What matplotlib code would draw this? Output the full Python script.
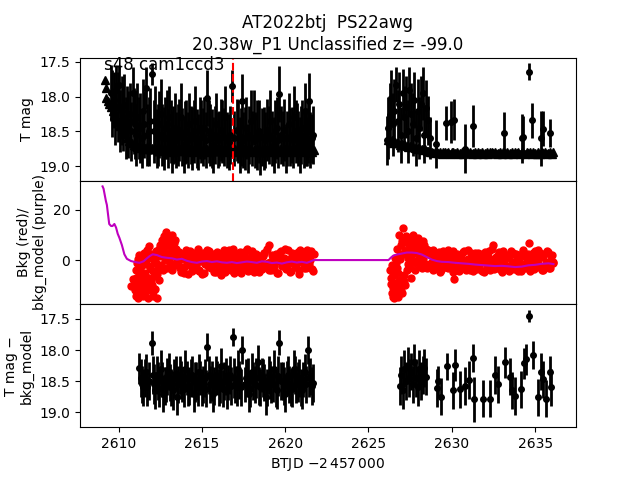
import matplotlib
matplotlib.use('Agg')
import matplotlib.pyplot as plt

# --- top panel: detections (mag, err) ---
det1_t = [
    2609.55, 2609.72, 2609.85, 2610.04, 2610.18, 2610.34, 2610.50, 2610.66, 2610.84, 2610.98,
    2611.12, 2611.30, 2611.46, 2611.63, 2611.80, 2612.03, 2612.20, 2612.36, 2612.52, 2612.70,
    2612.88, 2613.04, 2613.20, 2613.38, 2613.55, 2613.72, 2613.90, 2614.06, 2614.24, 2614.42,
    2614.60, 2614.78, 2614.95, 2615.14, 2615.32, 2615.50, 2615.68, 2615.86, 2616.04, 2616.22,
    2616.40, 2616.60, 2616.82, 2617.10, 2617.26, 2617.40, 2617.58, 2617.76, 2617.94, 2618.12,
    2618.30, 2618.50, 2618.70, 2618.90, 2619.10, 2619.30, 2619.48, 2619.65, 2619.84, 2620.02,
    2620.20, 2620.38, 2620.54, 2620.69, 2620.86, 2621.02, 2621.18, 2621.32, 2621.44, 2621.58]
det1_mag = [
    17.95, 18.05, 17.90, 17.83, 18.20, 18.12, 18.35, 18.25, 17.95, 18.40,
    18.30, 18.45, 18.20, 17.88, 18.50, 17.68, 18.35, 18.55, 18.25, 18.60,
    18.40, 18.30, 18.65, 18.45, 18.55, 18.30, 18.70, 18.50, 18.40, 18.60,
    18.35, 18.65, 18.50, 18.45, 18.02, 18.55, 18.70, 18.40, 18.60, 18.50,
    18.30, 18.65, 17.85, 18.48, 18.70, 18.07, 18.60, 18.75, 18.35, 18.30,
    18.55, 18.80, 18.60, 18.48, 18.35, 18.70, 18.45, 17.96, 18.60, 18.75,
    18.40, 18.55, 18.30, 18.49, 18.70, 18.45, 18.20, 18.65, 18.06, 18.60]
det1_err = [
    0.40, 0.40, 0.35, 0.28, 0.50, 0.45, 0.50, 0.45, 0.38, 0.50,
    0.50, 0.50, 0.45, 0.30, 0.50, 0.16, 0.50, 0.45, 0.50, 0.45,
    0.50, 0.45, 0.45, 0.50, 0.45, 0.50, 0.40, 0.45, 0.45, 0.45,
    0.50, 0.40, 0.45, 0.45, 0.40, 0.45, 0.40, 0.45, 0.40, 0.45,
    0.45, 0.40, 0.23, 0.45, 0.40, 0.40, 0.45, 0.35, 0.45, 0.40,
    0.50, 0.33, 0.45, 0.45, 0.45, 0.40, 0.45, 0.40, 0.40, 0.35,
    0.45, 0.40, 0.45, 0.40, 0.40, 0.40, 0.40, 0.35, 0.40, 0.35]

det1b_t = [
    2609.62, 2609.78, 2609.95, 2610.10, 2610.26, 2610.42, 2610.58, 2610.75, 2610.91, 2611.05,
    2611.21, 2611.38, 2611.55, 2611.72, 2611.90, 2612.12, 2612.28, 2612.44, 2612.61, 2612.79,
    2612.96, 2613.12, 2613.29, 2613.46, 2613.63, 2613.81, 2613.98, 2614.15, 2614.33, 2614.51,
    2614.69, 2614.87, 2615.05, 2615.23, 2615.41, 2615.59, 2615.77, 2615.95, 2616.13, 2616.31,
    2616.50, 2616.70, 2616.95, 2617.18, 2617.33, 2617.49, 2617.67, 2617.85, 2618.03, 2618.21,
    2618.40, 2618.60, 2618.80, 2619.00, 2619.20, 2619.39, 2619.57, 2619.75, 2619.93, 2620.11,
    2620.29, 2620.46, 2620.62, 2620.78, 2620.94, 2621.10, 2621.25, 2621.38, 2621.51, 2621.64]
det1b_mag = [
    18.10, 18.25, 18.15, 18.35, 18.30, 18.45, 18.40, 18.50, 18.35, 18.55,
    18.45, 18.60, 18.40, 18.55, 18.35, 18.50, 18.60, 18.40, 18.55, 18.45,
    18.60, 18.50, 18.55, 18.62, 18.48, 18.58, 18.52, 18.62, 18.55, 18.50,
    18.60, 18.45, 18.58, 18.62, 18.50, 18.60, 18.55, 18.62, 18.48, 18.58,
    18.62, 18.55, 18.60, 18.50, 18.58, 18.62, 18.45, 18.55, 18.60, 18.62,
    18.50, 18.58, 18.62, 18.55, 18.60, 18.50, 18.62, 18.55, 18.48, 18.60,
    18.58, 18.62, 18.50, 18.60, 18.55, 18.62, 18.58, 18.50, 18.62, 18.55]
det1b_err = [
    0.48, 0.45, 0.50, 0.45, 0.48, 0.45, 0.48, 0.42, 0.48, 0.45,
    0.45, 0.42, 0.48, 0.45, 0.48, 0.45, 0.42, 0.48, 0.45, 0.45,
    0.42, 0.45, 0.42, 0.40, 0.45, 0.42, 0.45, 0.40, 0.42, 0.45,
    0.42, 0.45, 0.42, 0.40, 0.45, 0.42, 0.42, 0.40, 0.45, 0.42,
    0.40, 0.42, 0.40, 0.45, 0.42, 0.40, 0.45, 0.42, 0.40, 0.40,
    0.45, 0.42, 0.40, 0.42, 0.40, 0.45, 0.40, 0.42, 0.45, 0.40,
    0.42, 0.40, 0.45, 0.40, 0.42, 0.40, 0.42, 0.45, 0.40, 0.42]

det2_t = [
    2626.12, 2626.20, 2626.27, 2626.37, 2626.45, 2626.55, 2626.67, 2626.76, 2626.85, 2626.95,
    2627.05, 2627.15, 2627.25, 2627.35, 2627.45, 2627.55, 2627.65, 2627.75, 2627.85, 2627.95,
    2628.05, 2628.15, 2628.26, 2628.36, 2628.46, 2628.56, 2628.70, 2629.06, 2629.66, 2629.95,
    2630.16, 2630.80, 2631.25, 2633.15, 2634.22, 2634.30, 2634.66, 2634.84, 2635.38, 2635.46,
    2635.90]
det2_mag = [
    18.63, 18.45, 18.26, 18.02, 18.40, 18.20, 17.83, 18.35, 18.10, 18.55,
    17.95, 18.30, 18.15, 18.50, 17.90, 18.25, 18.40, 18.05, 18.60, 18.20,
    18.45, 18.10, 17.95, 18.55, 18.16, 18.34, 18.60, 18.68, 18.38, 18.36,
    18.33, 18.75, 18.42, 18.52, 18.60, 18.58, 17.64, 18.34, 18.60, 18.46,
    18.52]
det2_err = [
    0.35, 0.45, 0.45, 0.40, 0.45, 0.45, 0.25, 0.45, 0.45, 0.40,
    0.35, 0.45, 0.45, 0.45, 0.33, 0.45, 0.45, 0.40, 0.40, 0.45,
    0.45, 0.40, 0.38, 0.40, 0.40, 0.35, 0.30, 0.35, 0.25, 0.30,
    0.30, 0.35, 0.30, 0.30, 0.35, 0.30, 0.12, 0.25, 0.40, 0.25,
    0.20]

# --- top panel: upper limits (triangles) ---
lim1_t = [
    2609.20, 2609.22, 2609.25, 2609.35, 2609.45, 2609.55, 2609.65, 2609.75, 2609.85, 2609.95,
    2610.05, 2610.20, 2610.35, 2610.50, 2610.65, 2610.80, 2610.95,
    2611.0, 2611.1, 2611.2, 2611.3, 2611.4, 2611.5, 2611.6, 2611.7, 2611.8, 2611.9,
    2612.0, 2612.1, 2612.2, 2612.3, 2612.4, 2612.5, 2612.6, 2612.7, 2612.8, 2612.9,
    2613.0, 2613.1, 2613.2, 2613.3, 2613.4, 2613.5, 2613.6, 2613.7, 2613.8, 2613.9,
    2614.0, 2614.1, 2614.2, 2614.3, 2614.4, 2614.5, 2614.6, 2614.7, 2614.8, 2614.9,
    2615.0, 2615.1, 2615.2, 2615.3, 2615.4, 2615.5, 2615.6, 2615.7, 2615.8, 2615.9,
    2616.0, 2616.1, 2616.2, 2616.3, 2616.4, 2616.5, 2616.6, 2616.7, 2616.8, 2616.9,
    2617.0, 2617.1, 2617.2, 2617.3, 2617.4, 2617.5, 2617.6, 2617.7, 2617.8, 2617.9,
    2618.0, 2618.1, 2618.2, 2618.3, 2618.4, 2618.5, 2618.6, 2618.7, 2618.8, 2618.9,
    2619.0, 2619.1, 2619.2, 2619.3, 2619.4, 2619.5, 2619.6, 2619.7, 2619.8, 2619.9,
    2620.0, 2620.1, 2620.2, 2620.3, 2620.4, 2620.5, 2620.6, 2620.7, 2620.8, 2620.9,
    2621.0, 2621.1, 2621.2, 2621.3, 2621.4, 2621.5, 2621.6, 2621.7]
lim1_mag = [
    17.76, 17.87, 18.02, 18.06, 18.10, 18.15, 18.20, 18.26, 18.32, 18.37,
    18.42, 18.48, 18.54, 18.60, 18.64, 18.67, 18.70,
    18.71, 18.73, 18.72, 18.74, 18.73, 18.75, 18.74, 18.73, 18.75, 18.76,
    18.74, 18.76, 18.75, 18.77, 18.74, 18.76, 18.78, 18.75, 18.77, 18.76,
    18.75, 18.77, 18.79, 18.76, 18.74, 18.77, 18.78, 18.76, 18.75, 18.78,
    18.77, 18.75, 18.78, 18.76, 18.79, 18.77, 18.75, 18.78, 18.76, 18.77,
    18.79, 18.76, 18.78, 18.75, 18.77, 18.79, 18.76, 18.78, 18.77, 18.75,
    18.78, 18.76, 18.79, 18.77, 18.75, 18.78, 18.76, 18.79, 18.77, 18.78,
    18.76, 18.79, 18.77, 18.75, 18.78, 18.76, 18.79, 18.77, 18.78, 18.76,
    18.79, 18.77, 18.75, 18.78, 18.76, 18.79, 18.78, 18.76, 18.77, 18.79,
    18.77, 18.75, 18.78, 18.76, 18.79, 18.77, 18.78, 18.76, 18.79, 18.77,
    18.75, 18.78, 18.76, 18.79, 18.77, 18.78, 18.76, 18.79, 18.77, 18.75,
    18.78, 18.76, 18.79, 18.77, 18.78, 18.76, 18.79, 18.77]

lim2_t = [
    2626.2, 2626.3, 2626.4, 2626.5, 2626.6, 2626.7, 2626.8, 2626.9, 2627.0, 2627.1,
    2627.2, 2627.3, 2627.4, 2627.5, 2627.6, 2627.7, 2627.8, 2627.9, 2628.0, 2628.1,
    2628.2, 2628.3, 2628.4, 2628.5,
    2628.6, 2628.7, 2628.8, 2628.9, 2629.0, 2629.1, 2629.2, 2629.3, 2629.4, 2629.5,
    2629.6, 2629.7, 2629.8, 2629.9, 2630.0, 2630.1, 2630.2, 2630.3, 2630.4, 2630.5,
    2630.6, 2630.7, 2630.8, 2630.9, 2631.0, 2631.1, 2631.2, 2631.3, 2631.4, 2631.5,
    2631.6, 2631.7, 2631.8, 2631.9, 2632.0, 2632.1, 2632.2, 2632.3, 2632.4, 2632.5,
    2632.6, 2632.7, 2632.8, 2632.9, 2633.0, 2633.1, 2633.2, 2633.3, 2633.4, 2633.5,
    2633.6, 2633.7, 2633.8, 2633.9, 2634.0, 2634.1, 2634.2, 2634.3, 2634.4, 2634.5,
    2634.6, 2634.7, 2634.8, 2634.9, 2635.0, 2635.1, 2635.2, 2635.3, 2635.4, 2635.5,
    2635.6, 2635.7, 2635.8, 2635.9, 2636.0, 2636.1]
lim2_mag = [
    18.62, 18.64, 18.63, 18.66, 18.65, 18.67, 18.66, 18.69, 18.68, 18.70,
    18.69, 18.71, 18.72, 18.71, 18.73, 18.72, 18.74, 18.75, 18.74, 18.76,
    18.75, 18.77, 18.76, 18.78,
    18.78, 18.80, 18.79, 18.81, 18.80, 18.79, 18.81, 18.80, 18.82, 18.80,
    18.79, 18.81, 18.80, 18.82, 18.80, 18.79, 18.81, 18.80, 18.82, 18.81,
    18.80, 18.82, 18.80, 18.79, 18.81, 18.80, 18.82, 18.81, 18.80, 18.82,
    18.79, 18.81, 18.80, 18.82, 18.81, 18.80, 18.82, 18.80, 18.79, 18.81,
    18.80, 18.82, 18.81, 18.80, 18.82, 18.79, 18.81, 18.80, 18.82, 18.81,
    18.80, 18.82, 18.80, 18.81, 18.79, 18.82, 18.80, 18.81, 18.82, 18.80,
    18.81, 18.79, 18.82, 18.80, 18.81, 18.83, 18.80, 18.82, 18.79, 18.81,
    18.80, 18.82, 18.81, 18.79, 18.82, 18.80]

disc_t = 2616.87

# --- middle panel: background flux ---
bkg1_t = [
    2610.72, 2610.85, 2611.00, 2611.03, 2611.06, 2611.10, 2611.13, 2611.16, 2611.20, 2611.23,
    2611.27, 2611.30, 2611.34, 2611.38, 2611.42, 2611.46, 2611.50, 2611.54, 2611.58, 2611.62,
    2611.66, 2611.70, 2611.75, 2611.80, 2611.84, 2611.88, 2611.92, 2611.96, 2612.00, 2612.04,
    2612.08, 2612.12, 2612.16, 2612.20, 2612.25, 2612.30, 2612.35, 2612.40, 2612.45, 2612.50,
    2612.55, 2612.60, 2612.65, 2612.70, 2612.75, 2612.80, 2612.83, 2612.88, 2612.93, 2612.98,
    2613.03, 2613.08, 2613.13, 2613.18, 2613.23, 2613.28, 2613.33, 2613.38, 2613.43, 2613.48,
    2613.55, 2613.65, 2613.75, 2613.85, 2613.95, 2614.05, 2614.15, 2614.25, 2614.35, 2614.45,
    2614.55, 2614.65, 2614.75, 2614.85, 2614.95, 2615.05, 2615.15, 2615.25, 2615.35, 2615.45,
    2615.55, 2615.65, 2615.75, 2615.85, 2615.95, 2616.05, 2616.15, 2616.25, 2616.35, 2616.45,
    2616.55, 2616.65, 2616.75, 2616.85, 2616.95, 2617.05, 2617.15, 2617.25, 2617.35, 2617.45,
    2617.55, 2617.65, 2617.75, 2617.85, 2617.95, 2618.05, 2618.15, 2618.25, 2618.35, 2618.45,
    2618.55, 2618.65, 2618.75, 2618.85, 2618.95, 2619.05, 2619.15, 2619.25, 2619.35, 2619.45,
    2619.55, 2619.65, 2619.75, 2619.85, 2619.95, 2620.05, 2620.15, 2620.25, 2620.35, 2620.45,
    2620.55, 2620.65, 2620.75, 2620.85, 2620.95, 2621.05, 2621.15, 2621.25, 2621.35, 2621.45,
    2621.55, 2621.65]
bkg1_val = [
    -10.4, -7.6, -12.0, -4.0, -14.5, -1.0, -9.0, -15.3, 2.0, -6.0,
    -12.5, -3.0, -14.0, 0.5, -8.0, -11.0, 3.0, -5.0, -13.0, -1.5,
    -9.5, 1.0, -15.0, 5.6, -7.0, -2.5, -12.0, 2.5, -10.0, -4.5,
    -14.5, 0.0, -6.5, -11.5, 3.5, -15.0, -3.0, -8.0, 1.5, 6.0,
    -2.0, 8.0, -4.0, 4.0, 9.5, 0.0, 11.3, 6.5, -3.0, 2.5,
    8.5, -1.0, 5.0, 10.0, -4.0, 3.0, 7.0, -2.0, 4.5, 0.5,
    -1.5, 3.2, -4.8, 0.6, -2.9, 4.1, -5.6, -0.8, 2.4, -3.7,
    1.1, -1.9, 4.6, -4.2, -0.3, 2.9, -5.1, 0.9, -2.4, 3.6,
    -3.3, -0.1, 1.8, -4.6, 2.7, -1.2, -5.8, 0.4, 3.9, -2.7,
    -0.9, 1.5, -4.0, 4.3, -1.7, -3.1, 2.1, -0.5, -5.3, 1.3,
    3.4, -2.2, -4.4, 0.2, 2.6, -1.4, -3.6, 2.6, -0.7, -4.9,
    1.2, 1.7, 3.0, -2.6, -1.0, 6.0, -3.9, 0.7, -1.8, 2.3,
    -5.0, -0.4, 3.7, -2.1, 1.0, -3.4, 4.0, -1.1, -4.3, 2.0,
    0.1, -2.8, 3.3, -5.4, 1.4, -0.6, 2.8, -3.0, 0.8, -1.6,
    3.5, -4.5]

bkg1b_t = [
    2611.02, 2611.08, 2611.15, 2611.22, 2611.32, 2611.40, 2611.48, 2611.60, 2611.68, 2611.78,
    2611.86, 2611.94, 2612.02, 2612.14, 2612.22, 2612.33, 2612.42, 2612.58, 2612.72, 2612.90,
    2613.00, 2613.15, 2613.25, 2613.40,
    2613.60, 2613.70, 2613.80, 2613.90, 2614.00, 2614.10, 2614.20, 2614.30, 2614.40, 2614.50,
    2614.60, 2614.70, 2614.80, 2614.90, 2615.00, 2615.10, 2615.20, 2615.30, 2615.40, 2615.50,
    2615.60, 2615.70, 2615.80, 2615.90, 2616.00, 2616.10, 2616.20, 2616.30, 2616.40, 2616.50,
    2616.60, 2616.70, 2616.80, 2616.90, 2617.00, 2617.10, 2617.20, 2617.30, 2617.40, 2617.50,
    2617.60, 2617.70, 2617.80, 2617.90, 2618.00, 2618.10, 2618.20, 2618.30, 2618.40, 2618.50,
    2618.60, 2618.70, 2618.80, 2618.90, 2619.00, 2619.10, 2619.20, 2619.30, 2619.40, 2619.50,
    2619.60, 2619.70, 2619.80, 2619.90, 2620.00, 2620.10, 2620.20, 2620.30, 2620.40, 2620.50,
    2620.60, 2620.70, 2620.80, 2620.90, 2621.00, 2621.10, 2621.20, 2621.30, 2621.40, 2621.50,
    2621.60, 2621.70]
bkg1b_val = [
    -7.0, -11.5, 0.5, -13.5, -9.0, -2.0, -14.5, -6.0, 4.0, -11.0,
    -3.5, -8.5, 1.0, -12.0, -1.0, -5.5, 4.5, 2.0, 7.0, 9.0,
    1.0, 6.0, 1.5, 8.0,
    0.8, -3.1, 2.2, -5.2, 1.9, -2.0, 0.3, 3.5, -4.4, -1.1,
    3.0, -0.6, -3.8, 1.6, -5.5, 2.0, -1.7, 4.0, -2.9, 0.2,
    2.5, -4.9, -1.6, 3.1, -3.5, 0.7, 2.3, -2.1, -4.7, 1.0,
    4.2, -2.5, 0.6, -5.0, 2.8, -0.2, -3.9, 3.3, -1.3, -2.8,
    0.9, 4.4, -3.0, -1.9, 3.8, -4.8, 0.1, -2.4, 1.8, -0.8,
    -3.7, 2.9, -1.5, 4.6, -4.1, -0.6, 2.2, -2.7, 0.5, -5.2,
    1.6, 3.1, -2.3, -0.5, 4.5, -3.2, 0.4, -4.6, 2.7, -1.2,
    -2.0, 1.1, -4.1, 3.9, -0.9, -3.3, 1.7, 4.1, -2.6, 0.0,
    -3.6, 2.4]

bkg2_t = [
    2626.30, 2626.38, 2626.42, 2626.46, 2626.50, 2626.54, 2626.58, 2626.62, 2626.66, 2626.70,
    2626.74, 2626.78, 2626.82, 2626.86, 2626.90, 2626.94, 2626.98, 2627.02, 2627.06, 2627.10,
    2627.14, 2627.18, 2627.22, 2627.26, 2627.30, 2627.35, 2627.40, 2627.45, 2627.50, 2627.55,
    2627.60, 2627.65, 2627.70, 2627.75, 2627.80, 2627.85, 2627.90, 2627.95, 2628.00, 2628.05,
    2628.10, 2628.15, 2628.20, 2628.25, 2628.30, 2628.35, 2628.40, 2628.45, 2628.50, 2628.55,
    2628.65, 2628.75, 2628.85, 2628.95, 2629.05, 2629.15, 2629.25, 2629.35, 2629.45, 2629.55,
    2629.65, 2629.75, 2629.85, 2629.95, 2630.05, 2630.15, 2630.25, 2630.35, 2630.45, 2630.55,
    2630.65, 2630.75, 2630.85, 2630.95, 2631.05, 2631.15, 2631.25, 2631.35, 2631.45, 2631.55,
    2631.65, 2631.75, 2631.85, 2631.95, 2632.05, 2632.15, 2632.25, 2632.35, 2632.45, 2632.55,
    2632.65, 2632.75, 2632.85, 2632.95, 2633.05, 2633.15, 2633.25, 2633.35, 2633.45, 2633.55,
    2633.65, 2633.75, 2633.85, 2633.95, 2634.05, 2634.15, 2634.25, 2634.35, 2634.45, 2634.55,
    2634.65, 2634.75, 2634.85, 2634.95, 2635.05, 2635.15, 2635.25, 2635.35, 2635.45, 2635.55,
    2635.65, 2635.75, 2635.85, 2635.95, 2636.05]
bkg2_val = [
    -4.0, -7.2, -2.0, -11.0, -14.7, -5.0, 1.0, -9.0, -12.5, -3.0,
    4.5, -14.7, -8.0, 10.0, 0.5, -10.7, 6.0, -13.3, 2.5, 12.7,
    -6.0, 8.0, -10.0, 3.0, -4.0, 7.0, 1.0, -3.3, 9.0, -7.3,
    5.0, 10.0, -1.0, 6.5, -4.0, 3.0, 8.0, 0.0, 5.0, -2.0,
    7.0, 2.0, -3.0, 5.5, 0.5, 6.0, -1.5, 3.5, -3.0, 4.0,
    2.5, -1.2, 4.1, -3.5, 0.8, -2.2, 3.3, -4.1, 1.6, -0.4,
    2.9, -3.0, 0.3, -1.8, 3.8, -7.6, -2.6, 1.2, -4.4, 2.2,
    -0.9, 3.5, -3.8, 0.6, -2.0, 2.7, -4.2, 1.0, -1.5, 3.0,
    -3.2, 0.4, 2.0, -4.6, 1.7, -0.7, 3.6, -2.4, 6.0, -3.6,
    1.4, -1.1, 3.1, -4.0, 0.0, 2.4, -2.8, 1.9, -4.3, 3.7,
    -0.6, -3.4, 2.6, -1.9, 0.9, -4.5, 3.2, -2.1, 1.3, -3.1,
    7.0, -0.2, 2.8, -3.7, 0.5, 3.9, -2.5, 1.1, -4.0, 2.3,
    -1.3, 3.4, -3.3, 1.8, -0.8]

bkg2b_t = [
    2626.34, 2626.40, 2626.48, 2626.56, 2626.64, 2626.72, 2626.80, 2626.88, 2626.96, 2627.04,
    2627.12, 2627.20, 2627.28, 2627.38, 2627.48, 2627.58, 2627.68, 2627.78, 2627.88, 2627.98,
    2628.08, 2628.18, 2628.28, 2628.38, 2628.48,
    2628.70, 2628.80, 2628.90, 2629.00, 2629.10, 2629.20, 2629.30, 2629.40, 2629.50, 2629.60,
    2629.70, 2629.80, 2629.90, 2630.00, 2630.10, 2630.20, 2630.30, 2630.40, 2630.50, 2630.60,
    2630.70, 2630.80, 2630.90, 2631.00, 2631.10, 2631.20, 2631.30, 2631.40, 2631.50, 2631.60,
    2631.70, 2631.80, 2631.90, 2632.00, 2632.10, 2632.20, 2632.30, 2632.40, 2632.50, 2632.60,
    2632.70, 2632.80, 2632.90, 2633.00, 2633.10, 2633.20, 2633.30, 2633.40, 2633.50, 2633.60,
    2633.70, 2633.80, 2633.90, 2634.00, 2634.10, 2634.20, 2634.30, 2634.40, 2634.50, 2634.60,
    2634.70, 2634.80, 2634.90, 2635.00, 2635.10, 2635.20, 2635.30, 2635.40, 2635.50, 2635.60,
    2635.70, 2635.80, 2635.90, 2636.00, 2636.10]
bkg2b_val = [
    -9.5, -13.0, -6.0, -15.0, -1.0, -11.5, -5.0, 2.0, -12.5, 7.5,
    -8.5, 4.0, 9.5, -1.5, 6.0, 2.0, 8.5, -0.5, 5.5, 9.0,
    3.0, -1.0, 7.5, 2.5, 4.5,
    -2.0, 1.5, -3.9, 3.0, -1.0, 2.1, -4.6, 0.3, 3.6, -2.7,
    -0.5, 4.2, -2.2, 1.3, -4.8, 0.6, 2.5, -3.4, 0.9, -1.6,
    3.3, -2.9, -0.1, 4.0, -4.1, 1.4, -1.9, 2.9, -3.6, 0.2,
    2.3, -4.4, -0.8, 3.4, -2.6, 1.1, -3.9, 4.3, -1.3, 0.7,
    -3.1, 2.0, -0.4, -4.6, 3.5, -2.0, 0.8, -3.5, 2.2, -1.0,
    3.0, -2.4, 0.4, -4.2, 1.9, -1.4, 4.1, -3.0, -0.3, 2.6,
    -4.3, 1.2, -1.8, 3.6, -2.9, 0.0, 2.9, -3.8, 1.5, -2.2,
    3.8, -0.7, -3.2, 2.1, -1.1]

# --- middle panel: background model ---
model_t = [
    2609.04, 2609.10, 2609.24, 2609.30, 2609.44, 2609.55, 2609.64, 2609.75, 2609.85, 2609.95,
    2610.05, 2610.20, 2610.35, 2610.50, 2610.75, 2611.00, 2611.25, 2611.50, 2611.65, 2611.85,
    2612.05, 2612.30, 2612.60, 2612.90, 2613.20, 2613.50, 2613.80, 2614.10, 2614.40, 2614.70,
    2615.00, 2615.30, 2615.60, 2615.90, 2616.20, 2616.50, 2616.80, 2617.10, 2617.40, 2617.70,
    2618.00, 2618.30, 2618.60, 2618.90, 2619.20, 2619.50, 2619.80, 2620.10, 2620.40, 2620.70,
    2621.00, 2621.30, 2621.55, 2621.70, 2626.20, 2626.35, 2626.50, 2626.70, 2627.00, 2627.30,
    2627.60, 2627.90, 2628.20, 2628.50, 2628.80, 2629.10, 2629.40, 2629.80, 2630.20, 2630.60,
    2631.00, 2631.40, 2631.80, 2632.20, 2632.60, 2633.00, 2633.40, 2633.80, 2634.20, 2634.60,
    2635.00, 2635.40, 2635.80, 2636.10]
model_val = [
    29.4, 28.5, 23.6, 22.0, 14.4, 13.6, 13.6, 14.4, 13.0, 10.5,
    8.9, 6.0, 2.3, 0.5, -0.4, -0.8, -1.1, -0.5, 0.4, 1.5,
    2.3, 2.0, 1.2, 0.9, 0.7, 0.2, 0.5, -0.3, -0.8, -1.1,
    -0.6, -0.4, -0.8, -0.5, -0.9, -1.1, -0.8, -1.2, -0.9, -0.6,
    -0.8, -1.1, -0.5, -0.7, -1.2, -1.0, -1.4, -0.9, -0.6, -1.0,
    -0.7, -1.1, -0.5, 0.0, 0.0, 1.0, 1.8, 2.2, 2.6, 3.0,
    3.0, 2.8, 2.2, 1.2, 0.2, -0.4, -0.7, -0.8, -1.1, -1.3,
    -1.5, -1.8, -2.0, -2.2, -2.4, -2.3, -2.5, -2.8, -2.6, -2.1,
    -1.9, -1.5, -1.3, -1.6]

# --- bottom panel: background-subtracted detections ---
sub1_t = [
    2611.24, 2611.40, 2611.56, 2611.72, 2611.98, 2612.05, 2612.20, 2612.36, 2612.52, 2612.68,
    2612.84, 2613.00, 2613.16, 2613.33, 2613.50, 2613.66, 2613.82, 2614.00, 2614.16, 2614.32,
    2614.50, 2614.66, 2614.82, 2615.00, 2615.16, 2615.30, 2615.50, 2615.66, 2615.82, 2616.00,
    2616.16, 2616.34, 2616.50, 2616.66, 2616.84, 2617.00, 2617.16, 2617.32, 2617.42, 2617.66,
    2617.82, 2618.00, 2618.16, 2618.34, 2618.50, 2618.66, 2618.84, 2619.00, 2619.16, 2619.34,
    2619.50, 2619.65, 2619.84, 2620.00, 2620.16, 2620.34, 2620.50, 2620.66, 2620.84, 2621.00,
    2621.16, 2621.36, 2621.50, 2621.66]
sub1_mag = [
    18.29, 18.55, 18.45, 18.60, 17.89, 18.40, 18.65, 18.50, 18.30, 18.70,
    18.55, 18.35, 18.60, 18.45, 18.75, 18.40, 18.55, 18.30, 18.60, 18.45,
    18.70, 18.50, 18.35, 18.60, 18.45, 17.95, 18.55, 18.70, 18.40, 18.60,
    18.25, 18.50, 18.65, 18.40, 17.79, 18.55, 18.30, 18.60, 18.00, 18.45,
    18.70, 18.35, 18.55, 18.20, 18.60, 18.45, 18.75, 18.40, 18.55, 18.30,
    18.65, 17.88, 18.50, 18.70, 18.40, 18.60, 18.30, 18.55, 18.45, 18.65,
    18.35, 18.00, 18.42, 18.53]
sub1_err = [
    0.25, 0.30, 0.30, 0.30, 0.19, 0.30, 0.30, 0.30, 0.30, 0.30,
    0.28, 0.30, 0.30, 0.30, 0.30, 0.30, 0.28, 0.30, 0.30, 0.30,
    0.30, 0.30, 0.28, 0.30, 0.30, 0.22, 0.30, 0.30, 0.30, 0.30,
    0.28, 0.30, 0.30, 0.30, 0.15, 0.30, 0.30, 0.30, 0.22, 0.30,
    0.30, 0.30, 0.30, 0.28, 0.30, 0.30, 0.30, 0.30, 0.30, 0.30,
    0.30, 0.20, 0.30, 0.30, 0.30, 0.30, 0.30, 0.30, 0.30, 0.30,
    0.28, 0.22, 0.30, 0.30]

sub1b_t = [
    2611.32, 2611.48, 2611.64, 2611.82, 2612.12, 2612.28, 2612.44, 2612.60, 2612.76, 2612.92,
    2613.08, 2613.25, 2613.42, 2613.58, 2613.74, 2613.91, 2614.08, 2614.24, 2614.41, 2614.58,
    2614.74, 2614.91, 2615.08, 2615.24, 2615.41, 2615.58, 2615.74, 2615.91, 2616.08, 2616.25,
    2616.42, 2616.58, 2616.75, 2616.92, 2617.08, 2617.24, 2617.58, 2617.74, 2617.91, 2618.08,
    2618.25, 2618.42, 2618.58, 2618.75, 2618.92, 2619.08, 2619.25, 2619.42, 2619.58, 2619.75,
    2619.92, 2620.08, 2620.25, 2620.42, 2620.58, 2620.75, 2620.92, 2621.08, 2621.25, 2621.42,
    2621.58]
sub1b_mag = [
    18.45, 18.60, 18.35, 18.50, 18.55, 18.40, 18.62, 18.48, 18.58, 18.42,
    18.52, 18.65, 18.38, 18.55, 18.48, 18.62, 18.45, 18.58, 18.40, 18.52,
    18.60, 18.45, 18.55, 18.62, 18.40, 18.50, 18.58, 18.45, 18.55, 18.62,
    18.42, 18.52, 18.58, 18.45, 18.60, 18.48, 18.55, 18.42, 18.62, 18.50,
    18.45, 18.58, 18.40, 18.52, 18.60, 18.48, 18.55, 18.62, 18.42, 18.50,
    18.58, 18.45, 18.55, 18.62, 18.40, 18.52, 18.60, 18.48, 18.55, 18.45,
    18.58]
sub1b_err = [
    0.30, 0.30, 0.28, 0.30, 0.32, 0.30, 0.30, 0.28, 0.30, 0.30,
    0.30, 0.32, 0.28, 0.30, 0.30, 0.30, 0.28, 0.30, 0.30, 0.32,
    0.30, 0.28, 0.30, 0.30, 0.30, 0.32, 0.30, 0.28, 0.30, 0.30,
    0.30, 0.28, 0.30, 0.32, 0.30, 0.30, 0.28, 0.30, 0.30, 0.30,
    0.32, 0.30, 0.28, 0.30, 0.30, 0.30, 0.28, 0.30, 0.32, 0.30,
    0.30, 0.28, 0.30, 0.30, 0.30, 0.32, 0.30, 0.28, 0.30, 0.30,
    0.30]

sub2_t = [
    2626.87, 2626.95, 2627.05, 2627.15, 2627.25, 2627.35, 2627.45, 2627.55, 2627.65, 2627.75,
    2627.85, 2627.95, 2628.05, 2628.15, 2628.25, 2628.35, 2628.46, 2629.10, 2629.18, 2629.35,
    2629.69, 2630.05, 2630.18, 2630.48, 2630.78, 2631.04, 2631.28, 2631.34, 2631.88, 2632.32,
    2632.58, 2632.75, 2633.18, 2633.48, 2633.64, 2633.78, 2634.18, 2634.32, 2634.48, 2634.66,
    2634.88, 2635.18, 2635.38, 2635.48, 2635.64, 2635.88, 2635.98]
sub2_mag = [
    18.58, 18.40, 18.65, 18.30, 18.50, 18.25, 18.45, 18.35, 18.55, 18.20,
    18.45, 18.60, 18.30, 18.50, 18.40, 18.29, 18.43, 18.61, 18.50, 18.75,
    18.26, 18.65, 18.24, 18.63, 18.58, 18.48, 18.13, 18.79, 18.78, 18.78,
    18.40, 18.55, 18.20, 18.43, 18.65, 18.74, 18.63, 18.21, 18.15, 17.45,
    18.08, 18.76, 18.35, 18.47, 18.78, 18.35, 18.60]
sub2_err = [
    0.30, 0.30, 0.30, 0.30, 0.30, 0.30, 0.30, 0.30, 0.30, 0.30,
    0.30, 0.30, 0.30, 0.30, 0.30, 0.30, 0.30, 0.30, 0.25, 0.30,
    0.22, 0.30, 0.25, 0.30, 0.30, 0.30, 0.22, 0.36, 0.30, 0.30,
    0.30, 0.30, 0.25, 0.30, 0.30, 0.30, 0.30, 0.25, 0.25, 0.10,
    0.22, 0.30, 0.30, 0.30, 0.30, 0.25, 0.30]


fig, (ax_mag, ax_bkg, ax_sub) = plt.subplots(3, 1, sharex=True, figsize=(6.4, 4.8), dpi=100)
fig.subplots_adjust(hspace=0)

# top: light curve with upper limits
for t, m, e in [(det1_t, det1_mag, det1_err), (det1b_t, det1b_mag, det1b_err),
                (det2_t, det2_mag, det2_err)]:
    ax_mag.errorbar(t, m, yerr=e, fmt='ko', ms=4, elinewidth=2)
ax_mag.plot(lim1_t, lim1_mag, 'k^')
ax_mag.plot(lim2_t, lim2_mag, 'k^')
ax_mag.axvline(disc_t, color='r', linestyle='--', linewidth=1.5)
ax_mag.invert_yaxis()
ax_mag.set_ylabel('T mag')
ax_mag.text(0.049, 0.897, 's48 cam1ccd3', transform=ax_mag.transAxes, fontsize=12)
ax_mag.set_title('AT2022btj  PS22awg\n20.38w_P1 Unclassified z= -99.0')

# middle: background and its model
for t, v in [(bkg1_t, bkg1_val), (bkg1b_t, bkg1b_val), (bkg2_t, bkg2_val), (bkg2b_t, bkg2b_val)]:
    ax_bkg.plot(t, v, 'ro', ms=5)
ax_bkg.plot(model_t, model_val, 'm-', linewidth=1.5)
ax_bkg.set_ylabel('Bkg (red)/\nbkg_model (purple)')

# bottom: background subtracted
for t, m, e in [(sub1_t, sub1_mag, sub1_err), (sub1b_t, sub1b_mag, sub1b_err),
                (sub2_t, sub2_mag, sub2_err)]:
    ax_sub.errorbar(t, m, yerr=e, fmt='ko', ms=4, elinewidth=2)
ax_sub.invert_yaxis()
ax_sub.set_ylabel('T mag \u2212\nbkg_model')
ax_sub.set_xlabel(r'BTJD $-2\,457\,000$')

fig.savefig('out.png', dpi=100)
